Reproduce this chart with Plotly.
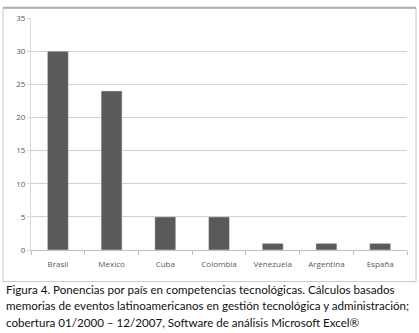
import plotly.graph_objects as go

countries = ["Brasil", "Mexico", "Cuba", "Colombia", "Venezuela", "Argentina", "España"]
ponencias = [30, 24, 5, 5, 1, 1, 1]
y_ticks = [0, 5, 10, 15, 20, 25, 30, 35]
caption_lines = [
    "Figura 4. Ponencias por país en competencias tecnológicas. Cálculos basados",
    "memorias de eventos latinoamericanos en gestión tecnológica y administración;",
    "cobertura 01/2000 – 12/2007, Software de análisis Microsoft Excel®",
]

W, H = 419, 333
L, R, T, B = 31, 12, 15, 83
pw, ph = W - L - R, H - T - B

def px(x):
    return (x - L) / pw

def py(y):
    return (H - B - y) / ph

fig = go.Figure(go.Bar(
    x=countries, y=ponencias, marker_color="#5a5a5a", width=0.39,
))

fig.update_layout(
    width=W, height=H,
    margin=dict(l=L, r=R, t=T, b=B),
    paper_bgcolor="white", plot_bgcolor="white",
    showlegend=False,
    font=dict(family="Open Sans", color="#595959", size=8),
)
fig.update_xaxes(
    showline=True, linecolor="#bfbfbf", linewidth=1,
    ticks="outside", tickson="boundaries", ticklen=4, tickcolor="#bfbfbf",
    ticklabelstandoff=6,
    tickfont=dict(size=8, color="#595959"),
    showgrid=False,
)
fig.update_yaxes(
    range=[0, 35], tickvals=y_ticks,
    showline=True, linecolor="#d9d9d9", linewidth=1,
    ticks="outside", ticklen=3, tickcolor="#d9d9d9",
    gridcolor="#d0d0d0", gridwidth=1,
    tickfont=dict(size=8, color="#595959"),
    zeroline=False,
)

# frame box around chart
fig.add_shape(type="rect", xref="paper", yref="paper",
              x0=px(3), x1=px(416), y0=py(282), y1=py(5),
              line=dict(color="#c8c8c8", width=1), layer="below")
fig.add_shape(type="line", xref="paper", yref="paper",
              x0=px(3), x1=px(416), y0=py(4.5), y1=py(4.5),
              line=dict(color="#b0b0b0", width=2))

for i, line in enumerate(caption_lines):
    fig.add_annotation(
        text=line, xref="paper", yref="paper",
        x=px(4), y=py(290 + i * 16.5), xanchor="left", yanchor="middle",
        showarrow=False,
        font=dict(family="Lato", size=11.6, color="#111111"),
    )

fig.write_html("out.html", config={"displayModeBar": False},
               post_script="document.body.style.margin='0';")
